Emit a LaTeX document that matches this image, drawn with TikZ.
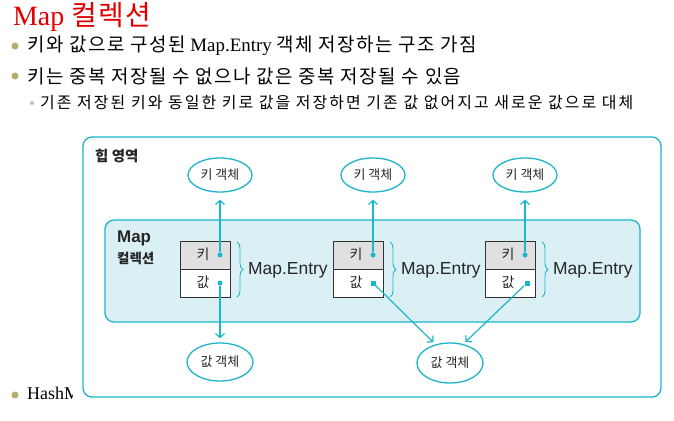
\documentclass[tikz,border=0pt]{standalone}
\usepackage{fontspec}
\setmainfont{Liberation Serif}
\newfontfamily\kr{Noto Sans CJK KR}
\newfontfamily\krt[LetterSpace=6]{Noto Sans CJK KR}
\newfontfamily\krs[LetterSpace=8]{Noto Sans CJK KR}
\newfontfamily\krss[LetterSpace=13]{Noto Sans CJK KR}
\newfontfamily\sans{Liberation Sans}
\usetikzlibrary{shapes.geometric,arrows.meta,decorations.pathreplacing}
\definecolor{cy}{HTML}{1CB5C9}
\definecolor{cyfill}{HTML}{DAF0F5}
\definecolor{olive}{HTML}{B3AE6B}
\definecolor{subdot}{HTML}{B4C4B8}
\definecolor{titlered}{HTML}{E00000}
\begin{document}
\begin{tikzpicture}[x=1bp,y=-1bp,
  ell/.style={ellipse, draw=cy, line width=1.3bp, inner sep=0pt, font=\kr\fontsize{13}{15}\selectfont, text=black!85},
  keycell/.style={rectangle, draw=black!80, line width=0.8bp, fill=black!12, minimum width=50bp, minimum height=28bp, inner sep=0pt},
  valcell/.style={keycell, fill=white},
  kdot/.style={circle, fill=cy, inner sep=0pt, minimum size=5bp},
  vdot/.style={rectangle, fill=cy, inner sep=0pt, minimum size=5bp},
  arr/.style={draw=cy, line width=1.2bp, -{Straight Barb[length=4bp,width=9bp]}},
  brc/.style={decorate, decoration={brace, amplitude=6bp}, draw=cy, line width=0.9bp},
  lbl/.style={font=\sans\fontsize{17.5}{20}\selectfont, text=black!85, anchor=west, inner sep=0pt},
  celltxt/.style={font=\kr\fontsize{14}{16}\selectfont, text=black!85, inner sep=0pt},
  bul/.style={circle, fill=olive, inner sep=0pt, minimum size=7bp},
  txt/.style={anchor=west, inner sep=0pt, text=black}
]
\useasboundingbox (0,0) rectangle (674,420);
% slide text
\node[txt, text=titlered, font=\fontsize{28}{32}\selectfont] (title) at (13,17) {Map {\krt 컬렉션}};
\node[bul] (b1) at (15,46) {};
\node[txt, font=\fontsize{19}{22}\selectfont] (t1) at (27,46) {{\krs 키와 값으로 구성된} Map.Entry {\krs 객체 저장하는 구조 가짐}};
\node[bul] (b2) at (15,76) {};
\node[txt, font=\krs\fontsize{19}{22}\selectfont] (t2) at (27,76) {키는 중복 저장될 수 없으나 값은 중복 저장될 수 있음};
\node[circle, fill=subdot, inner sep=0pt, minimum size=4bp] (b3) at (32,103) {};
\node[txt, font=\krss\fontsize{16}{18}\selectfont] (t3) at (40,103) {기존 저장된 키와 동일한 키로 값을 저장하면 기존 값 없어지고 새로운 값으로 대체};
\node[bul] (b4) at (15,395) {};
\node[txt, font=\fontsize{18}{22}\selectfont] (t4) at (27,395) {HashMap};
% pasted diagram background
\fill[white] (73,125) rectangle (674,408);
% heap area
\draw[cy, line width=1.3bp, rounded corners=9bp] (83,137) rectangle (661,397);
\node[anchor=west, inner sep=0pt, font=\kr\bfseries\fontsize{14.5}{17}\selectfont, text=black!85] (heap) at (95,156) {힙 영역};
% map collection
\draw[cy, fill=cyfill, line width=1.3bp, rounded corners=9bp] (105,220) rectangle (640,322);
\node[anchor=west, inner sep=0pt, font=\sans\bfseries\fontsize{17}{19}\selectfont, text=black!85] (mapl) at (117,238) {Map};
\node[anchor=west, inner sep=0pt, font=\kr\bfseries\fontsize{13.5}{15}\selectfont, text=black!85] (coll) at (117,258) {컬렉션};
% entries
\foreach \i/\x in {1/180,2/333,3/485}{
  \node[valcell] (v\i) at (\x+25,283) {};
  \node[keycell] (k\i) at (\x+25,255) {};
  \node[celltxt] (kt\i) at (\x+23,254) {키};
  \node[celltxt] (vt\i) at (\x+23,282) {값};
  \node[kdot] (kd\i) at (\x+40,255) {};
  \coordinate (bt\i) at (\x+57,242);
  \coordinate (bb\i) at (\x+57,297);
  \draw[brc] (bt\i) -- (bb\i);
  \node[lbl] (me\i) at (\x+68,270) {Map.Entry};
  \node[ell, minimum width=64bp, minimum height=34bp] (ko\i) at (\x+40,175) {키 객체};
  \draw[arr, shorten >=7bp] (kd\i) -- (ko\i);
}
\node[kdot] (vd1) at (220,283) {};
\node[vdot] (vd2) at (373,283) {};
\node[vdot] (vd3) at (527,283) {};
\node[ell, minimum width=66bp, minimum height=38bp] (vo1) at (220,362) {값 객체};
\node[ell, minimum width=66bp, minimum height=40bp] (vo2) at (450,363) {값 객체};
\draw[arr, shorten >=4bp] (vd1) -- (vo1);
\draw[arr, shorten >=3bp] (vd2) -- (vo2.128);
\draw[arr, shorten >=3bp] (vd3) -- (vo2.55);
\end{tikzpicture}
\end{document}
